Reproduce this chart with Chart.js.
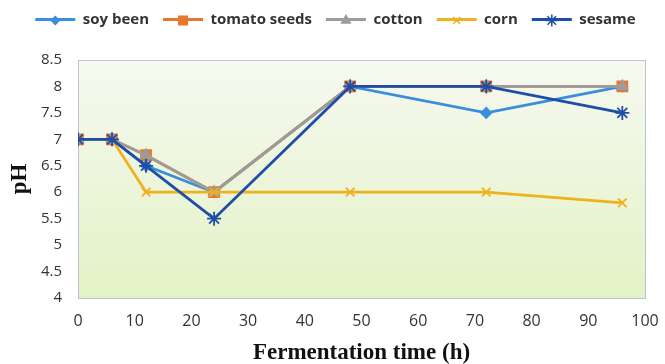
<!DOCTYPE html>
<html>
<head>
<meta charset="utf-8">
<script src="https://cdn.jsdelivr.net/npm/chart.js@4/dist/chart.umd.min.js"></script>
<style>
  html, body { margin: 0; padding: 0; background: #ffffff; }
  #wrap { width: 665px; height: 364px; }
</style>
</head>
<body>
<div id="wrap"><canvas id="phChart"></canvas></div>
<script>
// fermentation time (h)
var hours = [0, 6, 12, 24, 48, 72, 96];

var soyBeen = [7, 7, 6.5, 6, 8, 7.5, 8];
var tomatoSeeds = [7, 7, 6.7, 6, 8, 8, 8];
var cotton = [7, 7, 6.7, 6, 8, 8, 8];
var corn = [7, 7, 6, 6, 6, 6, 5.8];
var sesame = [7, 7, 6.5, 5.5, 8, 8, 7.5];

function toPoints(values) {
    return hours.map(function (h, i) { return { x: h, y: values[i] }; });
}

// listed last-series-first so sesame is drawn on top (like Excel); legend is reversed back
var series = [
    { label: 'sesame', values: sesame, color: '#1f4ea6', style: 'star', radius: 7 },
    { label: 'corn', values: corn, color: '#efb11e', style: 'crossRot', radius: 6 },
    { label: 'cotton', values: cotton, color: '#9c9c9c', style: 'triangle', radius: 6 },
    { label: 'tomato seeds', values: tomatoSeeds, color: '#e8772e', style: 'rect', radius: 7 },
    { label: 'soy been', values: soyBeen, color: '#3a8ede', style: 'rectRot', radius: 5 }
];

var plotBackground = {
    id: 'plotBackground',
    afterLayout: function (chart) {
        // nudge the legend a little up and right
        var lg = chart.legend;
        if (lg) {
            lg.top -= 5; lg.bottom -= 5;
            lg.left += 10; lg.right += 10;
        }
    },
    beforeDraw: function (chart) {
        var ctx = chart.ctx, a = chart.chartArea;
        ctx.save();
        ctx.fillStyle = 'white';
        ctx.fillRect(0, 0, chart.width, chart.height);
        var g = ctx.createLinearGradient(0, a.top, 0, a.bottom);
        g.addColorStop(0, '#f6f9f0');
        g.addColorStop(1, '#e3f2c6');
        ctx.fillStyle = g;
        ctx.fillRect(a.left, a.top, a.right - a.left, a.bottom - a.top);
        ctx.strokeStyle = '#b9c6cf';
        ctx.lineWidth = 1;
        ctx.strokeRect(a.left + 0.5, a.top + 0.5, a.right - a.left, a.bottom - a.top);
        ctx.restore();
    }
};

// put the series marker on top of each legend line
var legendMarkers = {
    id: 'legendMarkers',
    afterDraw: function (chart) {
        var lg = chart.legend;
        if (!lg || !lg.legendHitBoxes) return;
        var ctx = chart.ctx;
        var boxW = lg.options.labels.boxWidth;
        var fs = lg.options.labels.font.size;
        lg.legendItems.forEach(function (item, i) {
            var hb = lg.legendHitBoxes[i];
            var s = series[item.datasetIndex];
            ctx.save();
            ctx.fillStyle = s.color;
            ctx.strokeStyle = s.color;
            ctx.lineWidth = 1.5;
            Chart.helpers.drawPoint(ctx, { pointStyle: s.style, radius: s.radius - 1, rotation: 0, borderWidth: 1.5 },
                hb.left + boxW / 2, hb.top + fs / 2 + 1);
            ctx.restore();
        });
    }
};

var phChart = new Chart(document.getElementById('phChart'), {
    type: 'line',
    data: {
        datasets: series.map(function (s) {
            return {
                label: s.label,
                data: toPoints(s.values),
                borderColor: s.color,
                backgroundColor: s.color,
                borderWidth: 2.8,
                pointStyle: s.style,
                pointRadius: s.radius,
                pointBorderWidth: 1.8,
                pointBorderColor: s.color,
                pointBackgroundColor: s.color,
                tension: 0
            };
        })
    },
    options: {
        animation: false,
        responsive: true,
        maintainAspectRatio: false,
        layout: { padding: { top: 3, left: 6, right: 20, bottom: 0 } },
        plugins: {
            tooltip: { enabled: false },
            // empty title used only as a gap between legend and plot
            title: {
                display: true,
                text: '',
                weight: 500,
                font: { size: 10, lineHeight: 1 },
                padding: { top: 8, bottom: 0 }
            },
            legend: {
                position: 'top',
                reverse: true,
                labels: {
                    boxWidth: 40,
                    boxHeight: 3,
                    padding: 14,
                    color: '#333333',
                    font: { family: 'Open Sans', size: 15, weight: 'bold' },
                    generateLabels: function (chart) {
                        var items = Chart.defaults.plugins.legend.labels.generateLabels(chart);
                        items.forEach(function (it) {
                            it.lineWidth = 0;
                            it.fillStyle = series[it.datasetIndex].color;
                        });
                        return items;
                    }
                }
            }
        },
        scales: {
            x: {
                type: 'linear',
                min: 0,
                max: 100,
                // tick marks are not drawn (grid hidden) but their length offsets the labels
                grid: { display: false, drawTicks: true, tickLength: 14 },
                border: { display: false },
                afterFit: function (scale) { scale.height = 66; },
                ticks: {
                    stepSize: 10,
                    padding: 0,
                    color: '#333333',
                    font: { family: 'Open Sans', size: 16 }
                },
                title: {
                    display: true,
                    text: 'Fermentation time (h)',
                    color: '#111111',
                    font: { family: 'Liberation Serif', size: 23, weight: 'bold' },
                    padding: { top: 0, bottom: -3 }
                }
            },
            y: {
                type: 'linear',
                min: 4,
                max: 8.5,
                grid: { display: false, drawTicks: false },
                border: { display: false },
                afterFit: function (scale) { scale.width = 72; },
                ticks: {
                    stepSize: 0.5,
                    padding: 16,
                    color: '#333333',
                    font: { family: 'Open Sans', size: 15 },
                    callback: function (v) { return String(Math.round(v * 10) / 10); }
                },
                title: {
                    display: true,
                    text: 'pH',
                    color: '#111111',
                    font: { family: 'Liberation Serif', size: 23, weight: 'bold' },
                    padding: { top: 0, bottom: 0 }
                }
            }
        }
    },
    plugins: [plotBackground, legendMarkers]
});
</script>
</body>
</html>
